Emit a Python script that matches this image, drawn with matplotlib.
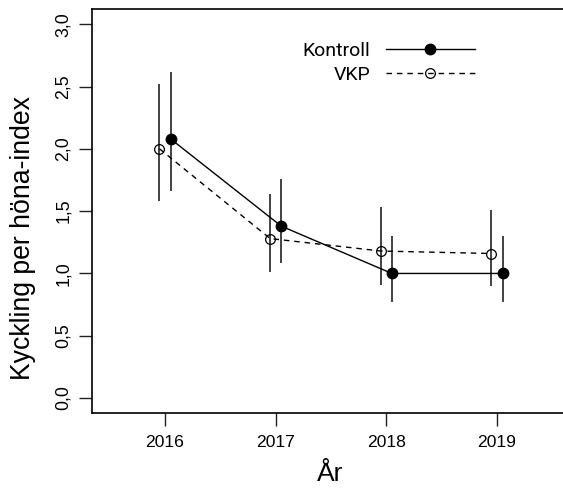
import numpy as np
import matplotlib
matplotlib.use("Agg")
from matplotlib import pyplot as plt
from matplotlib.lines import Line2D

# -------------------- Data --------------------
years = [2016, 2017, 2018, 2019]
kontroll = [2.08, 1.38, 1.00, 1.00]
kontroll_lo = [1.66, 1.08, 0.77, 0.77]
kontroll_hi = [2.62, 1.76, 1.30, 1.30]
vkp = [2.00, 1.28, 1.18, 1.16]
vkp_lo = [1.58, 1.01, 0.91, 0.90]
vkp_hi = [2.52, 1.64, 1.53, 1.51]
ytick_vals = [0.0, 0.5, 1.0, 1.5, 2.0, 2.5, 3.0]
ytick_labels = ["0,0", "0,5", "1,0", "1,5", "2,0", "2,5", "3,0"]

plt.rcParams['font.family'] = ['Liberation Sans', 'DejaVu Sans']

W, H = 563, 488
fig = plt.figure(figsize=(W / 100, H / 100), dpi=100)
# axes box runs a bit past the right edge, like the cropped original
ax = fig.add_axes([92 / W, 1 - 413 / H, (570 - 92) / W, (413 - 9.3) / H])

off = 0.05
xk = np.array(years) + off
xv = np.array(years) - off

ax.vlines(xk, kontroll_lo, kontroll_hi, color='#222222', lw=1.2, zorder=2)
ax.vlines(xv, vkp_lo, vkp_hi, color='#222222', lw=1.2, zorder=2)
ax.plot(xk, kontroll, '-', color='black', lw=1.0, marker='o', ms=7.5,
        mfc='black', mec='black', zorder=3)
ax.plot(xv, vkp, '--', color='black', lw=1.0, dashes=(4, 3.5), marker='o', ms=7,
        mfc='none', mec='black', mew=0.9, zorder=3)

ax.set_xlim(2015.34, 2019.66)
ax.set_ylim(-0.12, 3.12)
ax.set_xticks(years)
ax.set_xticklabels([str(y) for y in years], fontsize=12.6)
ax.set_yticks(ytick_vals)
ax.set_yticklabels(ytick_labels, fontsize=12.8, rotation=90, va='center')
ax.tick_params(length=9.5, width=1.0, pad=6, color='#222222')
ax.tick_params(axis='y', pad=5)
for s in ax.spines.values():
    s.set_linewidth(1.2)
ax.spines['right'].set_visible(False)

fig.text(330 / W, 1 - 474 / H, 'År', fontsize=19, ha='center', va='center')
fig.text(23 / W, 1 - 238.5 / H, 'Kyckling per höna-index', fontsize=19.2,
         rotation=90, ha='center', va='center')

handles = [
    Line2D([], [], color='black', lw=1.0, marker='o', ms=7.5, mfc='black'),
    Line2D([], [], color='black', lw=1.0, ls='--', dashes=(4, 3.5), marker='o', ms=7,
           mfc='none', mew=0.9),
]
fig.legend(handles, ['Kontroll', 'VKP'], loc='center right',
           bbox_to_anchor=(475 / W, 1 - 63 / H), frameon=False,
           markerfirst=False, numpoints=1, handlelength=4.6, handletextpad=0.8,
           labelspacing=0.3, borderpad=0, borderaxespad=0,
           prop={'family': 'Roboto', 'size': 14})

fig.savefig('out.png', dpi=100)
